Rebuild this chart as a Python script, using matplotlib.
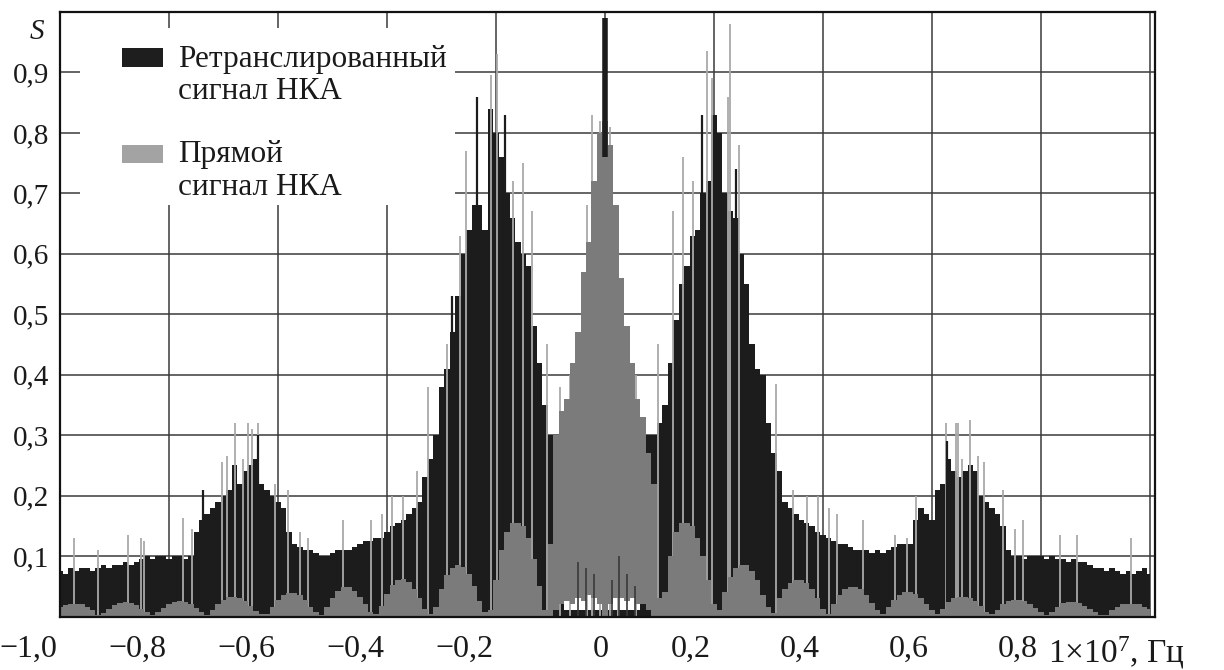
import numpy as np
import matplotlib
matplotlib.use("Agg")
import matplotlib.pyplot as plt
from matplotlib.patches import Rectangle
from matplotlib.transforms import ScaledTranslation

plt.rcParams['font.family'] = ['Liberation Serif', 'DejaVu Serif']
plt.rcParams['mathtext.fontset'] = 'custom'
plt.rcParams['mathtext.rm'] = 'Liberation Serif'
plt.rcParams['mathtext.it'] = 'Liberation Serif:italic'

# ---------------- data ----------------
# frequency samples, units of 1e7 Hz, step 0.01 from -1.00 to 1.00
freq = np.round(np.linspace(-1.0, 1.0, 201), 2)

# upper envelope of the retransmitted signal (black)
black_left = [  # -1.00 ... -0.01
    0.075, 0.07, 0.08, 0.075, 0.08, 0.08, 0.075, 0.08, 0.085, 0.08,
    0.085, 0.085, 0.09, 0.085, 0.09, 0.095, 0.10, 0.095, 0.10, 0.10,
    0.095, 0.10, 0.10, 0.095, 0.10, 0.14, 0.16, 0.17, 0.18, 0.19,
    0.20, 0.21, 0.25, 0.22, 0.24, 0.25, 0.26, 0.22, 0.21, 0.20,
    0.19, 0.18, 0.14, 0.12, 0.115, 0.11, 0.11, 0.105, 0.10, 0.10,
    0.105, 0.11, 0.11, 0.11, 0.115, 0.12, 0.125, 0.125, 0.13, 0.13,
    0.14, 0.15, 0.155, 0.16, 0.17, 0.18, 0.19, 0.23, 0.26, 0.30,
    0.38, 0.41, 0.47, 0.53, 0.60, 0.64, 0.68, 0.68, 0.64, 0.84,
    0.80, 0.76, 0.70, 0.66, 0.62, 0.60, 0.58, 0.48, 0.42, 0.35,
    0.30, 0.27, 0.26, 0.01, 0.01, 0.01, 0.01, 0.01, 0.01, 0.01,
]
black_center = [0.01]
black_right = [  # 0.01 ... 1.00
    0.01, 0.01, 0.01, 0.01, 0.01, 0.01, 0.28, 0.30, 0.30, 0.32,
    0.35, 0.42, 0.49, 0.55, 0.58, 0.63, 0.64, 0.70, 0.72, 0.83,
    0.80, 0.70, 0.67, 0.66, 0.60, 0.55, 0.45, 0.41, 0.40, 0.32,
    0.27, 0.24, 0.19, 0.18, 0.17, 0.16, 0.155, 0.15, 0.14, 0.135,
    0.13, 0.125, 0.12, 0.12, 0.115, 0.11, 0.11, 0.11, 0.105, 0.11,
    0.105, 0.11, 0.115, 0.12, 0.12, 0.12, 0.16, 0.18, 0.17, 0.16,
    0.21, 0.22, 0.26, 0.24, 0.23, 0.24, 0.25, 0.24, 0.20, 0.19,
    0.18, 0.17, 0.15, 0.11, 0.10, 0.10, 0.095, 0.10, 0.10, 0.10,
    0.095, 0.10, 0.095, 0.095, 0.09, 0.095, 0.09, 0.09, 0.085, 0.08,
    0.08, 0.075, 0.08, 0.075, 0.07, 0.075, 0.07, 0.075, 0.08, 0.07,
]
retrans = np.array(black_left + black_center + black_right)

# upper envelope of the direct signal (grey)
grey_left = [  # -1.00 ... -0.01
    0.016, 0.019, 0.021, 0.021, 0.02, 0.016, 0.01, 0.003, 0.006, 0.013,
    0.019, 0.023, 0.024, 0.023, 0.019, 0.013, 0.007, 0.003, 0.007, 0.014,
    0.02, 0.024, 0.025, 0.024, 0.02, 0.014, 0.008, 0.003, 0.01, 0.02,
    0.027, 0.032, 0.033, 0.031, 0.026, 0.018, 0.009, 0.004, 0.004, 0.015,
    0.027, 0.035, 0.039, 0.039, 0.035, 0.027, 0.016, 0.007, 0.003, 0.015,
    0.03, 0.042, 0.048, 0.048, 0.043, 0.033, 0.02, 0.008, 0.004, 0.018,
    0.038, 0.052, 0.06, 0.062, 0.057, 0.045, 0.03, 0.013, 0.004, 0.015,
    0.045, 0.068, 0.08, 0.085, 0.082, 0.07, 0.05, 0.025, 0.008, 0.01,
    0.06, 0.11, 0.14, 0.155, 0.155, 0.15, 0.13, 0.095, 0.05, 0.01,
    0.12, 0.30, 0.34, 0.36, 0.42, 0.47, 0.57, 0.62, 0.72, 0.80,
]
grey_center = [0.82]
grey_right = [  # 0.01 ... 1.00
    0.78, 0.68, 0.56, 0.48, 0.42, 0.36, 0.33, 0.27, 0.22, 0.03,
    0.04, 0.10, 0.14, 0.155, 0.155, 0.15, 0.13, 0.10, 0.06, 0.02,
    0.01, 0.04, 0.065, 0.08, 0.085, 0.085, 0.075, 0.06, 0.035, 0.015,
    0.005, 0.03, 0.045, 0.055, 0.06, 0.06, 0.055, 0.045, 0.03, 0.012,
    0.004, 0.02, 0.035, 0.045, 0.048, 0.048, 0.045, 0.035, 0.022, 0.01,
    0.004, 0.015, 0.028, 0.036, 0.04, 0.04, 0.037, 0.03, 0.02, 0.01,
    0.004, 0.012, 0.024, 0.03, 0.033, 0.033, 0.03, 0.025, 0.017, 0.008,
    0.004, 0.01, 0.02, 0.026, 0.028, 0.028, 0.026, 0.02, 0.014, 0.008,
    0.003, 0.008, 0.016, 0.022, 0.024, 0.024, 0.022, 0.018, 0.012, 0.007,
    0.003, 0.003, 0.01, 0.016, 0.02, 0.021, 0.021, 0.02, 0.016, 0.012,
]
direct = np.array(grey_left + grey_center + grey_right)

# lower edge of the grey main lobe (white gap at the bottom near 0)
direct_low_f = [-0.09, -0.08, -0.07, -0.06, -0.05, -0.04, -0.03, -0.02, -0.01,
                0.01, 0.02, 0.03, 0.04, 0.05, 0.06, 0.07, 0.08]
direct_low_v = [0.01, 0.02, 0.025, 0.02, 0.03, 0.025, 0.035, 0.03, 0.02,
                0.02, 0.03, 0.03, 0.025, 0.03, 0.02, 0.02, 0.01]

# thin light-grey spikes of the direct signal
spike_f = [-0.974, -0.93, -0.875, -0.852, -0.845, -0.775, -0.758, -0.738, -0.703,
           -0.694, -0.679, -0.664, -0.655, -0.648, -0.636, -0.605, -0.582, -0.56,
           -0.545, -0.48, -0.43, -0.41, -0.39, -0.37, -0.345, -0.325, -0.29,
           -0.266, -0.255, -0.21, -0.199, -0.169, -0.15, -0.134, -0.107, -0.083,
           -0.064, -0.033, -0.024, -0.01,
           0.009, 0.024, 0.057, 0.097, 0.125, 0.143, 0.161, 0.187, 0.196, 0.226,
           0.229, 0.246, 0.313, 0.345, 0.37, 0.39, 0.41, 0.425, 0.473, 0.532,
           0.554, 0.57, 0.626, 0.643, 0.648, 0.655, 0.67, 0.685, 0.695, 0.73,
           0.752, 0.766, 0.835, 0.866, 0.965]
spike_h = [0.13, 0.11, 0.135, 0.13, 0.125, 0.163, 0.145, 0.21, 0.255,
           0.265, 0.32, 0.26, 0.32, 0.31, 0.32, 0.22, 0.21, 0.14,
           0.13, 0.16, 0.16, 0.17, 0.20, 0.20, 0.24, 0.38, 0.45,
           0.63, 0.77, 0.895, 0.93, 0.72, 0.75, 0.67, 0.45, 0.38,
           0.40, 0.68, 0.83, 0.82,
           0.81, 0.68, 0.40, 0.45, 0.67, 0.76, 0.72, 0.935, 0.89, 0.86,
           0.98, 0.78, 0.385, 0.21, 0.20, 0.20, 0.18, 0.17, 0.16, 0.135,
           0.13, 0.20, 0.32, 0.32, 0.32, 0.26, 0.325, 0.265, 0.255, 0.21,
           0.145, 0.16, 0.135, 0.135, 0.13]

# thin black spikes of the retransmitted signal
bspike_f = [-0.738, -0.636, -0.28, -0.235, -0.183, 0.178, 0.24, 0.627]
bspike_h = [0.21, 0.30, 0.53, 0.86, 0.83, 0.83, 0.74, 0.29]

# narrow dark spikes at the foot of the main lobe, and the central line
cspike_f = [-0.05, -0.035, -0.02, 0.012, 0.025, 0.04, 0.055]
cspike_h = [0.09, 0.08, 0.07, 0.06, 0.10, 0.07, 0.05]
peak_f = [0.0]
peak_lo = [0.76]
peak_hi = [0.99]

xticks = [-1.0, -0.8, -0.6, -0.4, -0.2, 0.0, 0.2, 0.4, 0.6, 0.8, 1.0]
xlabels = ['\u22121,0', '\u22120,8', '\u22120,6', '\u22120,4', '\u22120,2', '0',
           '0,2', '0,4', '0,6', '0,8', r'1$\times$10$^{7}$, Гц']
yticks = [0.1, 0.2, 0.3, 0.4, 0.5, 0.6, 0.7, 0.8, 0.9]
ylabels = ['0,1', '0,2', '0,3', '0,4', '0,5', '0,6', '0,7', '0,8', '0,9']
legend_labels = [['Ретранслированный', 'сигнал НКА'], ['Прямой', 'сигнал НКА']]

# ---------------- figure ----------------
W, H = 1224, 670
fig = plt.figure(figsize=(W / 100, H / 100), dpi=100)
ax = fig.add_axes([60 / W, 1 - 616.5 / H, (1155 - 60) / W, (616.5 - 12) / H])
ax.set_xlim(-1.0, 1.009)
ax.set_ylim(0, 1.0)

BLACK = '#1c1c1c'
GREY = '#7b7b7b'
LIGHT = '#a9a9a9'

direct_low = np.zeros_like(direct)
for f, v in zip(direct_low_f, direct_low_v):
    direct_low[np.argmin(np.abs(freq - f))] = v

ax.fill_between(freq, 0, retrans, step='mid', color=BLACK, lw=0, zorder=1)
ax.vlines(spike_f, 0, spike_h, color=LIGHT, lw=1.3, zorder=1.5)
ax.vlines(bspike_f, 0, bspike_h, color=BLACK, lw=1.6, zorder=1.6)
ax.fill_between(freq, direct_low, direct, step='mid', color=GREY, lw=0, zorder=2)
ax.vlines(cspike_f, 0.0, cspike_h, color='#3a3a3a', lw=1.2, zorder=2.2)
ax.vlines(peak_f, peak_lo, peak_hi, color=BLACK, lw=4, zorder=2.3)

# grid & axes
ax.set_axisbelow(True)
ax.grid(True, color='#3a3a3a', lw=1.1)
for s in ax.spines.values():
    s.set_linewidth(1.6)
    s.set_color('#111111')
ax.set_xticks(xticks)
ax.set_xticklabels(xlabels, fontsize=23, color='#1a1a1a')
ax.set_yticks(yticks)
ax.set_yticklabels(ylabels, fontsize=21, color='#1a1a1a')
ax.tick_params(axis='both', length=0)
ax.tick_params(axis='x', pad=13)
ax.tick_params(axis='y', pad=8)

for val, lab in zip(xticks, ax.get_xticklabels()):
    if val == 0.0:
        lab.set_ha('center')
        dx = -4
    elif val == 1.0:
        lab.set_ha('left')
        lab.set_fontsize(24)
        dx = -102
    else:
        lab.set_ha('right')
        dx = -3
    lab.set_transform(lab.get_transform() + ScaledTranslation(dx / 100, 0, fig.dpi_scale_trans))

# y axis name
fig.text(37 / W, 1 - 32 / H, 'S', style='italic', fontsize=21, ha='center', va='center',
         color='#1a1a1a')

# legend (white box hiding the grid, two swatches, two-line labels)
def ax_xy(px, py):
    return (px - 60) / 1095, (616.5 - py) / 604.5

x0, y0 = ax_xy(80, 205)
x1, y1 = ax_xy(455, 28)
ax.add_patch(Rectangle((x0, y0), x1 - x0, y1 - y0, transform=ax.transAxes,
                       facecolor='white', edgecolor='none', zorder=3))
for (top, bot), col in zip([(48, 67), (145, 163)], ['#1e1e1e', '#a3a3a3']):
    a0, b0 = ax_xy(122, bot)
    a1, b1 = ax_xy(163, top)
    ax.add_patch(Rectangle((a0, b0), a1 - a0, b1 - b0, transform=ax.transAxes,
                           facecolor=col, edgecolor='none', zorder=4))
baselines = [(67, 99), (162, 195)]
for lines, bls in zip(legend_labels, baselines):
    for line, bl in zip(lines, bls):
        tx, ty = ax_xy(178, bl)
        ax.text(tx, ty, line, transform=ax.transAxes, fontsize=22.5, ha='left',
                va='baseline', color='#1a1a1a', zorder=5)

fig.savefig('out.png', dpi=100)
